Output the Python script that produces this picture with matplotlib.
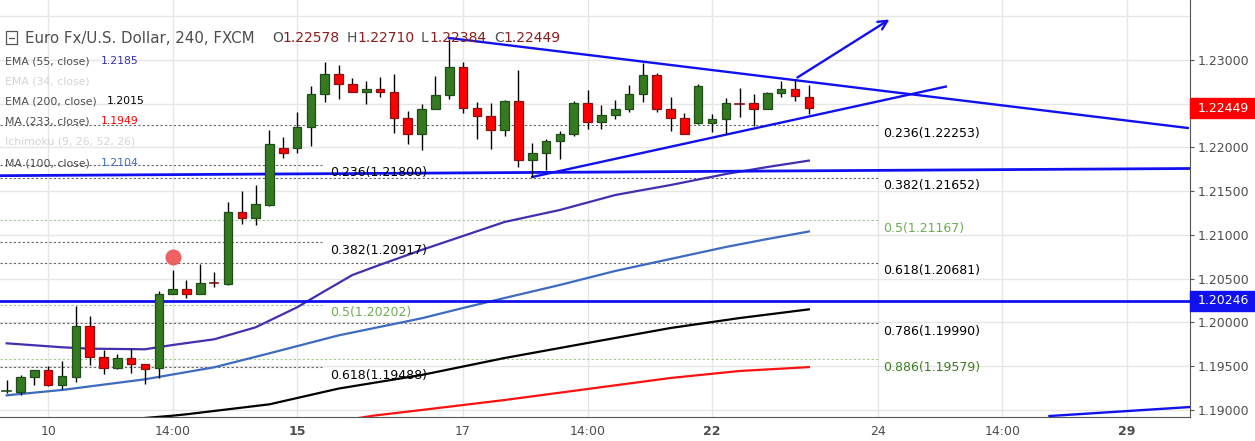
import numpy as np
import pandas as pd
import matplotlib
matplotlib.use("Agg")
import matplotlib.pyplot as plt
from matplotlib.patches import Rectangle

# EUR/USD, 240 min candles (FXCM)
opens = [1.19212, 1.19210, 1.19374, 1.19454, 1.19282, 1.19381, 1.19957, 1.19602, 1.19477, 1.19591,
         1.19522, 1.19477, 1.20322, 1.20379, 1.20322, 1.20450, 1.20443, 1.21259, 1.21198, 1.21343,
         1.21994, 1.21991, 1.22231, 1.22608, 1.22837, 1.22722, 1.22631, 1.22665, 1.22631, 1.22334,
         1.22151, 1.22437, 1.22597, 1.22917, 1.22448, 1.22363, 1.22197, 1.22528, 1.21854, 1.21934,
         1.22071, 1.22151, 1.22505, 1.22288, 1.22368, 1.22437, 1.22608, 1.22825, 1.22437, 1.22334,
         1.22277, 1.22283, 1.22322, 1.22505, 1.22505, 1.22437, 1.22619, 1.22665, 1.22578]
highs = [1.19343, 1.19397, 1.19457, 1.19499, 1.19560, 1.20192, 1.20074, 1.19686, 1.19640, 1.19709,
         1.19526, 1.20360, 1.20600, 1.20486, 1.20669, 1.20577, 1.21377, 1.21503, 1.21571, 1.22200,
         1.22120, 1.22406, 1.22703, 1.22974, 1.22943, 1.22791, 1.22760, 1.22802, 1.22840, 1.22417,
         1.22497, 1.22817, 1.23240, 1.22977, 1.22517, 1.22509, 1.22539, 1.22886, 1.22048, 1.22094,
         1.22189, 1.22528, 1.22654, 1.22482, 1.22543, 1.22714, 1.22969, 1.22848, 1.22577, 1.22394,
         1.22726, 1.22379, 1.22566, 1.22680, 1.22611, 1.22631, 1.22760, 1.22783, 1.22710]
lows = [1.19191, 1.19175, 1.19289, 1.19278, 1.19243, 1.19323, 1.19518, 1.19415, 1.19472, 1.19426,
        1.19301, 1.19362, 1.20322, 1.20283, 1.20322, 1.20409, 1.20432, 1.21129, 1.21114, 1.21331,
        1.21883, 1.21934, 1.22021, 1.22523, 1.22558, 1.22631, 1.22494, 1.22574, 1.22169, 1.22037,
        1.21968, 1.22437, 1.22558, 1.22391, 1.22101, 1.21979, 1.22135, 1.21781, 1.21663, 1.21746,
        1.21872, 1.22135, 1.22215, 1.22215, 1.22329, 1.22409, 1.22523, 1.22409, 1.22192, 1.22151,
        1.22265, 1.22181, 1.22151, 1.22352, 1.22249, 1.22437, 1.22574, 1.22528, 1.22384]
closes = [1.19214, 1.19374, 1.19454, 1.19282, 1.19385, 1.19957, 1.19602, 1.19477, 1.19591, 1.19522,
          1.19472, 1.20322, 1.20379, 1.20322, 1.20448, 1.20446, 1.21259, 1.21198, 1.21351, 1.22040,
          1.21934, 1.22231, 1.22608, 1.22837, 1.22722, 1.22631, 1.22665, 1.22631, 1.22334, 1.22151,
          1.22437, 1.22597, 1.22917, 1.22448, 1.22363, 1.22197, 1.22528, 1.21854, 1.21934, 1.22071,
          1.22151, 1.22505, 1.22288, 1.22368, 1.22437, 1.22608, 1.22825, 1.22437, 1.22334, 1.22151,
          1.22699, 1.22322, 1.22505, 1.22501, 1.22437, 1.22619, 1.22665, 1.22585, 1.22449]

# moving averages (candle index, value)
ema55_idx = [0, 4, 6, 10, 12, 15, 18, 21, 23, 25, 27, 30, 33, 36, 40, 44, 48, 52, 55, 58]
ema55_val = [1.19762, 1.19717, 1.19701, 1.19694, 1.19743, 1.19808, 1.19945, 1.20174, 1.20360, 1.20543,
             1.20660, 1.20829, 1.20989, 1.21149, 1.21286, 1.21457, 1.21571, 1.21697, 1.21777, 1.21850]
ma100_idx = [0, 4, 10, 15, 19, 24, 30, 33, 36, 40, 44, 48, 52, 55, 58]
ma100_val = [1.19168, 1.19229, 1.19351, 1.19488, 1.19648, 1.19853, 1.20048, 1.20166, 1.20280, 1.20429,
             1.20589, 1.20726, 1.20863, 1.20954, 1.21040]
ema200_idx = [10, 12, 13, 16, 19, 24, 30, 36, 42, 48, 53, 58]
ema200_val = [1.18909, 1.18935, 1.18951, 1.19008, 1.19065, 1.19245, 1.19400, 1.19594, 1.19766, 1.19937,
              1.20051, 1.20150]
ma233_idx = [25, 26.5, 30, 36, 42, 48, 53, 58]
ma233_val = [1.18897, 1.18935, 1.19000, 1.19114, 1.19240, 1.19366, 1.19446, 1.19490]

# fibonacci retracements
fib_left_levels = ["0.236", "0.382", "0.5", "0.618"]
fib_left_prices = [1.21800, 1.20917, 1.20202, 1.19488]
fib_right_levels = ["0.236", "0.382", "0.5", "0.618", "0.786", "0.886"]
fib_right_prices = [1.22253, 1.21652, 1.21167, 1.20681, 1.19990, 1.19579]

# drawn trend lines (candle index, price)
resist_x, resist_y = [32, 85.4], [1.23251, 1.22223]
support_x, support_y = [38, 67.9], [1.21663, 1.22696]
flat_x, flat_y = [-0.48, 85.56], [1.21678, 1.21760]
level_price = 1.20246
low_x, low_y = [75.4, 85.56], [1.18931, 1.19034]
arrow_from = (57, 1.22783)
arrow_to = (64.0, 1.2348)
marker_pt = (12, 1.20749)

last_price = 1.22449
ohlc = [("O", "1.22578"), ("H", "1.22710"), ("L", "1.22384"), ("C", "1.22449")]
time_ticks = [3, 12, 21, 33, 42, 51, 63, 72, 81]
time_labels = ["10", "14:00", "15", "17", "14:00", "22", "24", "14:00", "29"]
price_ticks = [1.19, 1.195, 1.20, 1.205, 1.21, 1.215, 1.22, 1.23]

W, H = 1255, 441
def fx(px):
    return px / W
def fy(py):
    return 1 - py / H

BLUE = "#1010f0"
GREEN = "#357a20"
GREEN_EDGE = "#1f4d1a"
RED = "#ff0000"
RED_EDGE = "#8b1010"
GRAY = "#4d4d4d"

fig = plt.figure(figsize=(W / 100, H / 100), dpi=100)
ax = fig.add_axes([0, fy(417), fx(1190), 417 / H])
ax.set_xlim(-0.484, 85.56)
ax.set_ylim(1.18920, 1.236857)

# grid
for p in np.arange(1.19, 1.2351, 0.005):
    ax.axhline(p, color="#e6e6e6", lw=1, zorder=0)
for t in time_ticks:
    ax.axvline(t, color="#e6e6e6", lw=1, zorder=0)

# fib lines
for lev, p in zip(fib_right_levels, fib_right_prices):
    green = lev in ("0.5", "0.886")
    ax.plot([-0.484, 63.0], [p, p], ls=(0, (2, 2)), lw=0.8,
            color="#9ccc86" if green else "#666666", zorder=1)
    col = {"0.5": "#6aae50", "0.886": "#3d7d22"}.get(lev, "black")
    ax.text(63.4, p - 8 / 8750, f"{lev}({p:.5f})", fontsize=9, color=col, va="center", zorder=6)
for lev, p in zip(fib_left_levels, fib_left_prices):
    green = lev == "0.5"
    ax.plot([-0.484, 22.8], [p, p], ls=(0, (2, 2)), lw=0.8,
            color="#9ccc86" if green else "#666666", zorder=1)
    ax.text(23.4, p - 8 / 8750, f"{lev}({p:.5f})", fontsize=9,
            color="#6aae50" if green else "black", va="center", zorder=6)

# moving averages
ax.plot(ma233_idx, ma233_val, color="#ff1010", lw=1.6, zorder=2)
ax.plot(ema200_idx, ema200_val, color="black", lw=1.6, zorder=2)
ax.plot(ma100_idx, ma100_val, color="#3c6bbf", lw=1.6, zorder=2)
ax.plot(ema55_idx, ema55_val, color="#4030b0", lw=1.6, zorder=2)

# trend lines
ax.plot(flat_x, flat_y, color=BLUE, lw=2, zorder=3)
ax.axhline(level_price, color=BLUE, lw=2, zorder=3)
ax.plot(resist_x, resist_y, color=BLUE, lw=1.7, zorder=3)
ax.plot(support_x, support_y, color=BLUE, lw=1.7, zorder=3)
ax.plot(low_x, low_y, color=BLUE, lw=1.7, zorder=3)
ax.annotate("", xy=arrow_to, xytext=arrow_from,
            arrowprops=dict(arrowstyle="->", color=BLUE, lw=1.7, mutation_scale=16), zorder=3)

# candles
idx = np.arange(len(opens))
ax.vlines(idx, lows, highs, color="black", lw=1, zorder=4)
for i, (o, c) in enumerate(zip(opens, closes)):
    up = c >= o
    if abs(c - o) < 0.00008:
        ax.plot([i - 0.31, i + 0.31], [c, c], color="#1f4d1a" if up else "#7a1010", lw=1.2, zorder=5)
        continue
    ax.bar(i, abs(c - o), bottom=min(o, c), width=0.62,
           color=GREEN if up else RED, edgecolor=GREEN_EDGE if up else RED_EDGE, lw=0.9, zorder=5)

ax.plot(*marker_pt, "o", ms=10.5, color="#ec5b5b", alpha=0.95, zorder=6)

# axes
for s in ("left", "top"):
    ax.spines[s].set_visible(False)
for s in ("right", "bottom"):
    ax.spines[s].set_color("#555555")
ax.yaxis.tick_right()
ax.set_yticks(price_ticks)
ax.set_yticklabels([f"{p:.5f}" for p in price_ticks])
ax.tick_params(axis="y", length=3, pad=2.5, labelsize=9, colors="#555555", labelcolor=GRAY)
ax.set_xticks(time_ticks)
ax.set_xticklabels(time_labels)
ax.tick_params(axis="x", length=0, pad=5.5, labelsize=9, labelcolor=GRAY)
for lab in ax.get_xticklabels():
    if lab.get_text() in ("15", "22", "29"):
        lab.set_fontweight("bold")

# price boxes on the right scale
for p, col in ((last_price, RED), (level_price, BLUE)):
    yc = 60 + (1.23 - p) * 8750
    fig.patches.append(Rectangle((fx(1190), fy(yc + 10)), fx(65), 20 / H,
                                 transform=fig.transFigure, color=col, zorder=5))
    fig.text(fx(1198), fy(yc), f"{p:.5f}", color="white", fontsize=9, va="center", zorder=6)

# header
fig.patches.append(Rectangle((fx(5.5), fy(43.5)), fx(11), 12 / H, transform=fig.transFigure,
                             fill=False, edgecolor="#555555", lw=0.9))
fig.lines.append(plt.Line2D([fx(8.5), fx(13.5)], [fy(37.5), fy(37.5)], transform=fig.transFigure,
                            color="#555555", lw=0.9))
fig.text(fx(25), fy(38.5), "Euro Fx/U.S. Dollar, 240, FXCM", fontsize=10.8, color=GRAY, va="center")
for (letter, val), xp, gap in zip(ohlc, [272, 347, 421, 494], [10.5, 10, 8, 9.5]):
    fig.text(fx(xp), fy(38.5), letter, fontsize=10, color=GRAY, va="center")
    fig.text(fx(xp + gap), fy(38.5), val, fontsize=10, color="#8b1c1c", va="center")

# indicator legend
legend_rows = [("EMA (55, close)", "1.2185", "#3333aa", 61, 101),
               ("EMA (34, close)", "", "", 81, 0),
               ("EMA (200, close)", "1.2015", "black", 101, 107),
               ("MA (233, close)", "1.1949", "#ff0000", 121, 101),
               ("Ichimoku (9, 26, 52, 26)", "", "", 141, 0),
               ("MA (100, close)", "1.2104", "#3c6bbf", 163, 101)]
for name, val, col, yp, xv in legend_rows:
    fig.text(fx(5), fy(yp), name, fontsize=7.8, color=GRAY if val else "#d4d4d4", va="center")
    if val:
        fig.text(fx(xv), fy(yp), val, fontsize=7.8, color=col, va="center")

fig.savefig("out.png", dpi=100)
